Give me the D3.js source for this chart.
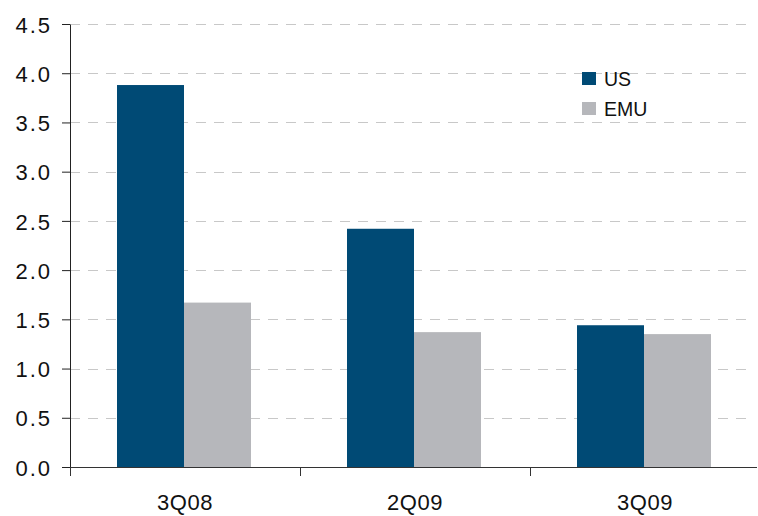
<!DOCTYPE html>
<html>
<head>
<meta charset="utf-8">
<script src="https://cdn.jsdelivr.net/npm/d3@7"></script>
<style>
  body { margin: 0; background: #fff; }
  svg text { font-family: "Liberation Sans", Arial, sans-serif; fill: #111; }
</style>
</head>
<body>
<svg class="chart" width="758" height="516"></svg>
<script>
(function() {
  'use strict';

var categories = ['3Q08', '2Q09', '3Q09'];
var series = ['US', 'EMU'];
var usValues = [3.88, 2.42, 1.44];
var emuValues = [1.67, 1.37, 1.35];
var yTicks = [0, 0.5, 1, 1.5, 2, 2.5, 3, 3.5, 4, 4.5];
var colors = ['#004a75', '#b6b7bb'];

var margin = { top: 24, right: 0, bottom: 49, left: 70 };
var width = 758 - margin.left - margin.right,
    height = 516 - margin.top - margin.bottom;

var data = categories.map(function(c, i) {
  return { cat: c, values: [usValues[i], emuValues[i]] };
});

var x = d3.scaleBand()
    .domain(categories)
    .range([0, 690]);

var x1 = d3.scaleBand()
    .domain(series)
    .range([47, 47 + 134]);

var y = d3.scaleLinear()
    .domain([0, 4.5])
    .range([height, 0]);

var chart = d3.select('.chart')
  .append('g')
    .attr('transform', 'translate(' + margin.left + ',' + margin.top + ')');

// dashed grid
chart.append('g')
  .selectAll('line')
  .data(yTicks.filter(function(d) { return d > 0; }))
  .enter().append('line')
    .attr('x1', 0)
    .attr('x2', width - 4)
    .attr('y1', function(d) { return Math.round(y(d)) + 0.5; })
    .attr('y2', function(d) { return Math.round(y(d)) + 0.5; })
    .attr('stroke', '#c8c8c8')
    .attr('stroke-dasharray', '10,8');

// bars
var group = chart.selectAll('.grp')
    .data(data)
  .enter().append('g')
    .attr('class', 'grp')
    .attr('transform', function(d) { return 'translate(' + x(d.cat) + ',0)'; });

group.selectAll('rect')
    .data(function(d) { return d.values.map(function(v, i) { return { key: series[i], value: v, i: i }; }); })
  .enter().append('rect')
    .attr('x', function(d) { return x1(d.key); })
    .attr('width', x1.bandwidth())
    .attr('y', function(d) { return y(d.value); })
    .attr('height', function(d) { return height - y(d.value); })
    .attr('fill', function(d) { return colors[d.i]; });

// y axis
var yAxis = chart.append('g')
    .call(d3.axisLeft(y).tickValues(yTicks).tickFormat(d3.format('.1f')).tickSize(8).tickPadding(10));
yAxis.select('.domain').attr('stroke', '#222').attr('d', 'M0.5,' + height + 'V0.5');
yAxis.selectAll('.tick line').attr('stroke', '#222');
yAxis.selectAll('text')
    .style('font-size', '22px')
    .style('letter-spacing', '2px')
    .attr('dy', '0.37em');

// x axis
var xAxis = chart.append('g')
    .attr('transform', 'translate(0,' + height + ')')
    .call(d3.axisBottom(x).tickSize(0).tickPadding(27));
xAxis.select('.domain').attr('stroke', '#333').attr('d', 'M0,0.5H' + (width - 1));
xAxis.selectAll('text')
    .style('font-size', '22px')
    .style('letter-spacing', '0.5px');
xAxis.selectAll('.sep')
    .data(categories)
  .enter().append('line')
    .attr('class', 'sep')
    .attr('x1', function(d) { return x(d) + 0.5; })
    .attr('x2', function(d) { return x(d) + 0.5; })
    .attr('y1', 0)
    .attr('y2', 9)
    .attr('stroke', '#333');

// legend
var legend = chart.append('g')
    .attr('transform', 'translate(512,48)')
  .selectAll('g')
    .data(series)
  .enter().append('g')
    .attr('transform', function(d, i) { return 'translate(0,' + i * 30 + ')'; });

legend.append('rect')
    .attr('width', 14)
    .attr('height', 13)
    .attr('fill', function(d, i) { return colors[i]; });

legend.append('text')
    .attr('x', 22)
    .attr('y', 7)
    .attr('dy', '0.36em')
    .style('font-size', '19.5px')
    .text(function(d) { return d; });
}());
</script>
</body>
</html>
